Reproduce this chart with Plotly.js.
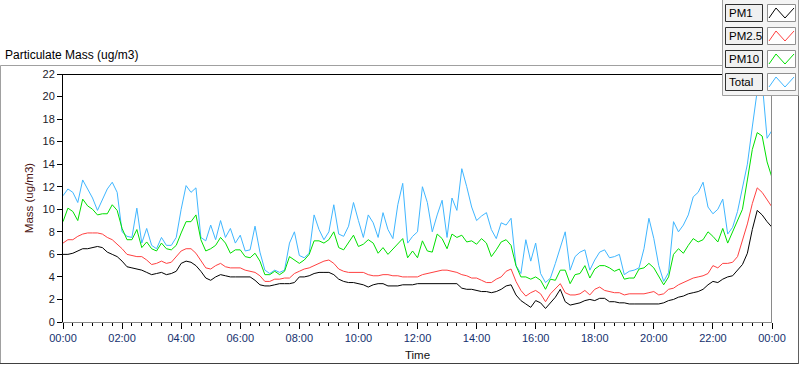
<!DOCTYPE html>
<html>
<head>
<meta charset="utf-8">
<script src="https://cdn.plot.ly/plotly-3.0.1.min.js"></script>
<style>
  html, body { margin: 0; padding: 0; background: #ffffff; }
  #chart { width: 800px; height: 365px; }
</style>
</head>
<body>
<div id="chart"></div>
<script>
// ---- Data (10-minute samples, 00:00 .. 24:00) ----
const startDay = '2024-01-01';
const stepMinutes = 10;

const seriesNames = ['PM1', 'PM2.5', 'PM10', 'Total'];

const pm1 = [
  6.0, 6.0, 6.1, 6.3, 6.5, 6.5,
  6.6, 6.7, 6.6, 6.2, 6.0, 5.8,
  5.4, 4.9, 4.8, 4.7, 4.6, 4.4,
  4.2, 4.3, 4.4, 4.2, 4.3, 4.5,
  5.2, 5.4, 5.3, 5.0, 4.5, 3.9,
  3.7, 4.0, 4.2, 4.1, 4.0, 4.0,
  4.0, 4.0, 4.0, 3.7, 3.3, 3.2,
  3.2, 3.3, 3.4, 3.4, 3.4, 3.5,
  4.0, 4.0, 4.1, 4.3, 4.4, 4.4,
  4.4, 4.2, 3.8, 3.6, 3.5, 3.5,
  3.4, 3.3, 3.1, 3.3, 3.4, 3.4,
  3.2, 3.2, 3.2, 3.3, 3.3, 3.3,
  3.4, 3.4, 3.4, 3.4, 3.4, 3.4,
  3.4, 3.4, 3.4, 3.0, 2.9, 2.9,
  2.8, 2.7, 2.7, 2.6, 2.7, 2.9,
  3.2, 3.3, 2.4, 1.9, 1.6, 1.3,
  1.9, 1.7, 1.2, 1.7, 2.2, 2.9,
  1.8, 1.5, 1.6, 1.7, 1.9, 2.0,
  1.9, 2.1, 2.1, 1.8, 1.8, 1.7,
  1.7, 1.6, 1.6, 1.6, 1.6, 1.6,
  1.6, 1.6, 1.7, 1.9, 2.0, 2.2,
  2.3, 2.5, 2.6, 2.7, 2.9, 3.3,
  3.6, 3.5, 3.8, 4.0, 4.1, 4.6,
  5.1, 6.1, 8.2, 9.9, 9.5, 8.9,
  8.4
];

const pm25 = [
  7.0, 7.3, 7.3, 7.6, 7.8, 7.9,
  7.9, 7.9, 7.8, 7.5, 7.3, 6.9,
  6.5, 6.0, 5.9, 5.8, 5.8, 5.5,
  5.1, 5.2, 5.4, 5.2, 5.3, 5.8,
  6.3, 6.5, 6.5, 6.1, 5.5, 4.8,
  4.7, 5.0, 5.2, 4.9, 4.8, 4.8,
  4.8, 4.6, 4.5, 4.4, 4.1, 3.6,
  3.6, 3.8, 3.8, 3.9, 3.9, 4.3,
  4.5, 4.7, 4.8, 5.0, 5.2, 5.4,
  5.5, 5.2, 4.7, 4.5, 4.4, 4.4,
  4.4, 4.4, 4.2, 4.1, 4.1, 4.2,
  4.2, 4.1, 4.1, 4.0, 4.0, 4.0,
  4.0, 4.2, 4.3, 4.4, 4.5, 4.6,
  4.6, 4.5, 4.4, 4.2, 4.1, 3.9,
  3.9, 3.7, 3.5, 3.5, 3.8, 4.0,
  4.5, 4.7, 3.6, 2.8, 2.3, 2.6,
  2.8, 2.5, 1.8, 2.5, 3.0, 3.4,
  2.6, 2.4, 2.4, 2.5, 2.8, 2.4,
  2.9, 3.1, 2.8, 2.7, 2.6, 2.6,
  2.4, 2.5, 2.5, 2.5, 2.5, 2.6,
  2.7, 2.4, 2.5, 2.9, 3.0, 3.3,
  3.5, 3.7, 3.9, 4.0, 4.1, 4.3,
  5.0, 4.8, 5.2, 5.2, 5.3, 5.8,
  7.2, 8.7, 10.5, 11.9, 11.5, 10.9,
  10.2
];

const pm10 = [
  8.9, 10.1, 9.8, 9.0, 10.9, 10.3,
  10.0, 9.5, 9.6, 9.6, 10.4, 9.9,
  8.3, 7.3, 7.3, 8.2, 6.6, 7.1,
  6.5, 6.3, 7.0, 6.5, 6.4, 6.8,
  7.9, 8.9, 8.9, 9.5, 7.3, 6.3,
  6.5, 6.8, 7.5, 7.0, 6.1, 6.4,
  6.4, 5.8, 5.7, 6.1, 5.4, 4.2,
  4.2, 4.5, 4.2, 4.5, 5.8, 5.5,
  5.2, 5.5, 6.0, 7.2, 7.2, 7.0,
  7.3, 8.0, 6.6, 6.4, 7.0, 7.7,
  6.7, 6.9, 7.3, 7.0, 6.1, 6.6,
  6.0, 6.5, 6.9, 7.4, 5.7, 6.3,
  5.7, 7.2, 6.3, 6.2, 7.8, 7.4,
  6.5, 7.8, 7.5, 7.7, 7.1, 7.2,
  6.9, 7.4, 7.0, 5.8, 6.4, 7.1,
  7.3, 6.8, 5.0, 4.0, 4.0, 3.8,
  4.0, 3.7, 2.9, 3.8, 3.7, 4.6,
  4.6, 3.4, 4.2, 4.3, 5.0, 3.9,
  4.7, 5.0, 5.0, 4.8, 4.5, 4.7,
  3.8, 3.9, 3.9, 4.7, 4.8, 5.2,
  4.8, 4.1, 3.3, 4.0, 6.0, 6.5,
  6.1, 6.8, 7.4, 7.1, 7.3, 8.0,
  7.6, 7.1, 8.3, 7.0, 8.0, 9.0,
  10.0, 12.6, 15.3, 16.8, 16.5, 14.2,
  12.8
];

const total = [
  11.2, 11.8, 11.5, 10.6, 12.6, 11.8,
  11.0, 9.9, 10.8, 11.8, 12.4, 11.5,
  8.0, 7.6, 7.5, 10.1, 7.0, 8.3,
  6.8, 6.5, 7.5, 6.8, 6.8, 7.5,
  10.0, 12.1, 11.5, 11.9, 7.5, 7.2,
  8.6, 7.3, 9.0, 7.5, 8.3, 7.0,
  7.7, 6.3, 6.4, 8.5, 6.2, 4.6,
  4.3, 4.6, 4.4, 4.6, 7.0, 8.0,
  5.9, 5.7, 6.1, 9.5, 8.2, 7.3,
  8.0, 10.4, 7.8, 7.6, 8.5, 10.6,
  9.0, 7.5, 9.5, 8.8, 7.5, 9.7,
  8.2, 7.4, 10.4, 12.3, 7.0, 7.6,
  8.0, 12.0, 10.6, 8.0, 9.5, 10.8,
  7.5, 11.0, 9.9, 13.6, 12.0, 10.2,
  9.0, 9.4, 9.7, 8.2, 7.4, 8.8,
  8.6, 9.2, 5.0, 4.3, 7.3, 5.4,
  7.0, 4.3, 3.5, 3.9, 5.2, 6.5,
  8.0, 4.6, 5.8, 6.2, 6.4, 4.6,
  5.5, 6.2, 6.4, 5.7, 5.8, 6.0,
  4.2, 4.5, 4.6, 4.8, 6.5, 9.2,
  7.4, 5.0, 3.6, 4.4, 8.9, 8.0,
  8.6, 9.5, 11.1, 11.5, 12.4, 10.2,
  9.6, 10.0, 10.9, 7.8, 8.4, 9.8,
  11.8, 14.0, 17.3, 20.5, 21.3, 16.3,
  17.0
];

const yTickVals = [0, 2, 4, 6, 8, 10, 12, 14, 16, 18, 20, 22];
const chartTitle = 'Particulate Mass (ug/m3)';
const xTitle = 'Time';
const yTitle = 'Mass (ug/m3)';

// ---- Time stamps for the samples ----
function pad(n) { return String(n).padStart(2, '0'); }
function stamp(i) {
  const m = i * stepMinutes;
  const day = m >= 1440 ? '2024-01-02' : startDay;
  const mm = m % 1440;
  return day + ' ' + pad(Math.floor(mm / 60)) + ':' + pad(mm % 60);
}
const times = pm1.map((_, i) => stamp(i));

// ---- Styling ----
const colors = { 'PM1': '#000000', 'PM2.5': '#ff4040', 'PM10': '#00e000', 'Total': '#3fb6ff' };
const FONT = 'Liberation Sans, Arial, sans-serif';

const W = 800, H = 365;
const M = { l: 63, r: 28, t: 74, b: 43 };
const PW = W - M.l - M.r, PH = H - M.t - M.b;
const X = p => (p - M.l) / PW;
const Y = p => (H - M.b - p) / PH;

const valuesByName = { 'PM1': pm1, 'PM2.5': pm25, 'PM10': pm10, 'Total': total };
const drawOrder = ['Total', 'PM10', 'PM2.5', 'PM1'];
const traces = drawOrder.map(name => ({
  type: 'scatter',
  mode: 'lines',
  name: name,
  x: times,
  y: valuesByName[name],
  line: { color: colors[name], width: 1 },
  hoverinfo: 'skip'
}));

function line(x0, y0, x1, y1, color, width) {
  return { type: 'line', xref: 'paper', yref: 'paper', x0: X(x0), y0: Y(y0), x1: X(x1), y1: Y(y1),
           line: { color: color, width: width || 1 }, layer: 'above' };
}
function rect(x0, y0, x1, y1, fill, color) {
  return { type: 'rect', xref: 'paper', yref: 'paper', x0: X(x0), y0: Y(y0), x1: X(x1), y1: Y(y1),
           fillcolor: fill, line: { color: color, width: 1 }, layer: 'above' };
}

const shapes = [];
// outer frame
shapes.push(line(0.5, 65.5, 722, 65.5, '#a0a0a0'));
shapes.push(line(0.5, 65.5, 0.5, 364, '#a0a0a0'));
shapes.push(line(0, 363.5, 799, 363.5, '#404040'));
shapes.push(line(798.5, 95, 798.5, 364, '#606060'));
// plot frame: top/left dark, bottom/right gray
shapes.push(line(62.5, 74.5, 772, 74.5, '#000000'));
shapes.push(line(771.5, 74.5, 771.5, 322, '#8a8a8a'));
// legend panel
shapes.push(rect(722.5, -1, 798.5, 95.5, '#f4f4f4', '#a0a0a0'));
const rowTops = [4, 27, 50, 73];
const annotations = [];
seriesNames.forEach((name, k) => {
  const t = rowTops[k];
  shapes.push(rect(725.5, t + 0.5, 762.5, t + 17.5, '#f0f0f0', '#303030'));
  shapes.push(rect(767.5, t + 0.5, 795.5, t + 17.5, '#ffffff', '#909090'));
  const zig = [[769, t + 14], [776, t + 4], [785, t + 14], [794, t + 4]];
  let path = '';
  zig.forEach((p, j) => { path += (j === 0 ? 'M' : 'L') + X(p[0]) + ',' + Y(p[1]); });
  shapes.push({ type: 'path', xref: 'paper', yref: 'paper', path: path,
                line: { color: colors[name], width: 1 }, layer: 'above' });
  annotations.push({
    xref: 'paper', yref: 'paper', x: X(727), y: Y(t + 9), xanchor: 'left', yanchor: 'middle',
    text: name, showarrow: false, font: { family: FONT, size: 11.5, color: '#000000' }
  });
});

const layout = {
  width: W, height: H,
  margin: M,
  paper_bgcolor: '#ffffff',
  plot_bgcolor: '#ffffff',
  showlegend: false,
  font: { family: FONT, size: 11, color: '#000000' },
  title: {
    text: chartTitle, x: 5 / W, xanchor: 'left', xref: 'container',
    y: 1 - 55 / H, yanchor: 'middle', yref: 'container',
    font: { family: FONT, size: 12, color: '#000000' }
  },
  xaxis: {
    type: 'date',
    range: [startDay + ' 00:00', '2024-01-02 00:00'],
    tick0: startDay + ' 00:00',
    dtick: 2 * 3600 * 1000,
    tickformat: '%H:%M',
    ticks: 'outside', ticklen: 6, tickcolor: '#000000', tickwidth: 1,
    minor: { dtick: 20 * 60 * 1000, ticks: 'outside', ticklen: 3, tickcolor: '#000000', showgrid: false },
    showgrid: false, zeroline: false,
    showline: true, linecolor: '#8a8a8a', linewidth: 1,
    tickfont: { family: FONT, size: 11, color: '#14306e' },
    title: { text: xTitle, standoff: 7, font: { family: FONT, size: 11.5, color: '#111111' } },
    fixedrange: true
  },
  yaxis: {
    range: [0, 22],
    tickvals: yTickVals,
    ticks: 'outside', ticklen: 5, tickcolor: '#000000', tickwidth: 1,
    showgrid: false, zeroline: false,
    showline: true, linecolor: '#000000', linewidth: 1,
    tickfont: { family: FONT, size: 11, color: '#1a1a2a' },
    title: { text: yTitle, standoff: 6, font: { family: FONT, size: 11.5, color: '#4a1414' } },
    fixedrange: true
  },
  shapes: shapes,
  annotations: annotations
};

Plotly.newPlot('chart', traces, layout, { displayModeBar: false, staticPlot: true });
</script>
</body>
</html>
